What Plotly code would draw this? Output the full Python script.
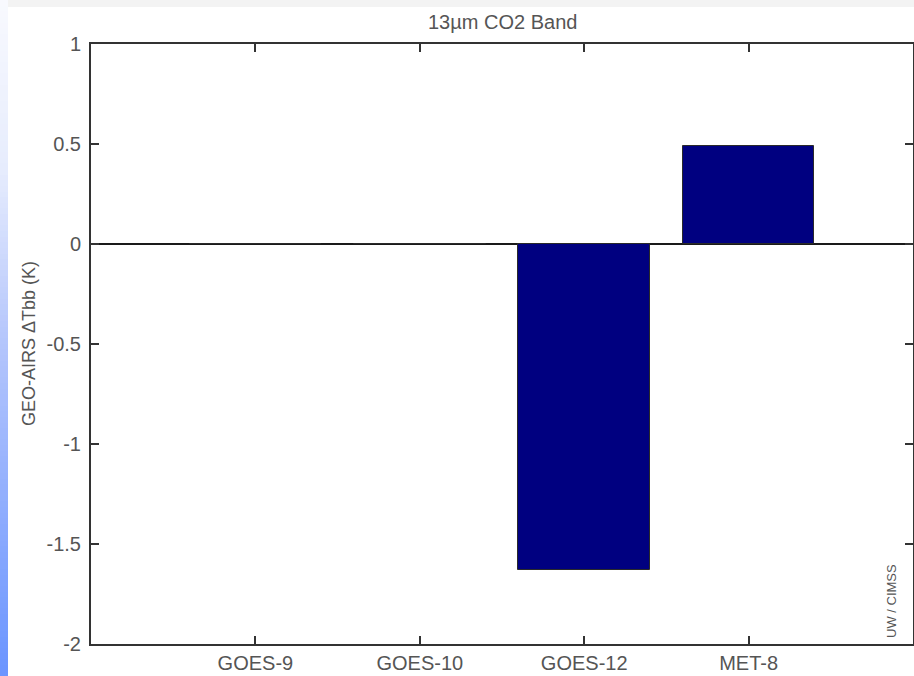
import numpy as np
import plotly.graph_objects as go

# Satellite brightness-temperature differences, 13um CO2 band
satellites = ["GOES-9", "GOES-10", "GOES-12", "MET-8"]
positions = [1, 2, 3, 4]
delta_tbb = [0.0, 0.0, -1.63, 0.49]

y_ticks = [-2, -1.5, -1, -0.5, 0, 0.5, 1]
y_tick_text = ["-2", "-1.5", "-1", "-0.5", "0", "0.5", "1"]

W, H = 914, 676
TEXT = "#555555"
AXIS = "#333333"
FONT = "Liberation Sans, Arial, Helvetica, sans-serif"

fig = go.Figure()

fig.add_trace(go.Bar(
    x=positions, y=delta_tbb, width=0.8,
    marker=dict(color="#000080", line=dict(color="#2a2a2a", width=1)),
    xaxis="x", yaxis="y", showlegend=False,
))

# vertical gradient strip along the left edge of the page
grad = np.linspace(0, 1, 120)
fig.add_trace(go.Heatmap(
    z=[[v] for v in grad], x=[0], y=grad,
    colorscale=[[0.0, "#6b95ff"], [0.5, "#b5c6fc"], [0.75, "#e6ecfd"], [1.0, "#f8f9fe"]],
    showscale=False, xaxis="x2", yaxis="y2", hoverinfo="skip",
))

axis_common = dict(
    showline=True, linecolor=AXIS, linewidth=2, mirror="ticks",
    ticks="inside", ticklen=8, tickwidth=2, tickcolor=AXIS,
    showgrid=False, automargin=False,
    tickfont=dict(family=FONT, size=20, color=TEXT),
)

fig.update_layout(
    width=W, height=H,
    margin=dict(l=0, r=0, t=0, b=0, pad=0),
    paper_bgcolor="white", plot_bgcolor="white",
    xaxis=dict(
        domain=[91 / W, 913 / W], range=[0, 5],
        tickvals=positions, ticktext=satellites,
        zeroline=False, **axis_common,
    ),
    yaxis=dict(
        domain=[32 / H, 632 / H], range=[-2, 1],
        tickvals=y_ticks, ticktext=y_tick_text,
        zeroline=True, zerolinecolor="#1a1a1a", zerolinewidth=2,
        ticklabelstandoff=4,
        **axis_common,
    ),
    xaxis2=dict(domain=[0, 8 / W], visible=False, anchor="y2"),
    yaxis2=dict(domain=[0, 1], visible=False, anchor="x2"),
    shapes=[
        dict(type="rect", xref="paper", yref="paper",
             x0=8 / W, x1=1, y0=(H - 7) / H, y1=1,
             fillcolor="#f3f3f3", line=dict(width=0), layer="below"),
    ],
    annotations=[
        dict(text="13µm CO2 Band", xref="paper", yref="paper",
             x=502 / W, y=(H - 22) / H, xanchor="center", yanchor="middle",
             showarrow=False, font=dict(family=FONT, size=20, color=TEXT)),
        dict(text="GEO-AIRS ΔTbb (K)", xref="paper", yref="paper",
             x=29 / W, y=(H - 344) / H, xanchor="center", yanchor="middle",
             textangle=-90, showarrow=False,
             font=dict(family=FONT, size=18, color=TEXT)),
        dict(text="UW / CIMSS", xref="paper", yref="paper",
             x=891 / W, y=(H - 601) / H, xanchor="center", yanchor="middle",
             textangle=-90, showarrow=False,
             font=dict(family=FONT, size=13, color=TEXT)),
    ],
    bargap=0,
)

fig.write_html(
    "out.html",
    post_script="document.body.style.margin='0';document.body.style.overflow='hidden';",
)
